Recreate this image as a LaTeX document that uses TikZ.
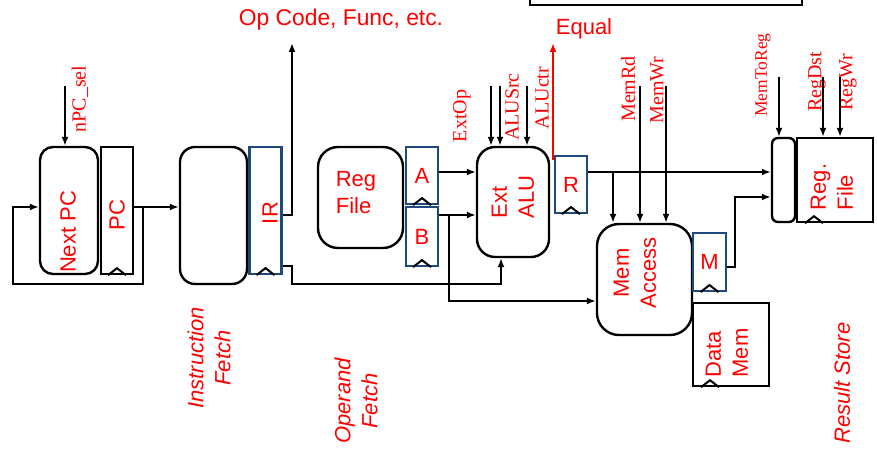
\documentclass[tikz,border=0pt]{standalone}
\usepackage{fontspec}
\setmainfont{Liberation Sans}
\newfontfamily\ctlfont{Liberation Serif}
\usetikzlibrary{arrows.meta}
\definecolor{regblue}{RGB}{31,73,125}
\newcommand{\bigsz}{\fontsize{22}{27}\selectfont}
\tikzstyle{unitbox}=[draw, line width=2.4pt, inner sep=0pt]
\tikzstyle{plainbox}=[draw, line width=2.4pt, inner sep=0pt]
\tikzstyle{regbox}=[draw=regblue, line width=2.2pt, inner sep=0pt, minimum width=32pt, text=red, font=\bigsz]
\tikzstyle{txt}=[text=red, font=\bigsz, inner sep=0pt]
\tikzstyle{vtxt}=[txt, rotate=90]
\tikzstyle{phase}=[vtxt, font=\bigsz\itshape, align=center]
\tikzstyle{ctl}=[text=red, font=\ctlfont\fontsize{20}{24}\selectfont, rotate=90, inner sep=0pt]
\tikzstyle{wire}=[line width=2pt, -{Latex[length=9pt,width=7pt]}]
\tikzstyle{clock}=[line width=2pt]
\newcommand{\clk}[2][0pt]{\draw[clock] ([xshift=#1-9pt]#2) -- ++(9pt,7pt) -- ++(9pt,-7pt);}

\begin{document}
\begin{tikzpicture}[x=1pt,y=-1pt]
\useasboundingbox (0,0) rectangle (877,449);

\node[unitbox, rounded corners=13pt, minimum width=58pt, minimum height=127pt] (nextpc) at (69,210.5) {};
\node[plainbox, minimum width=32pt, minimum height=127pt] (pc) at (117,210.5) {};
\node[unitbox, rounded corners=15pt, minimum width=67pt, minimum height=137pt] (imem) at (213.5,215.5) {};
\node[regbox, minimum height=127pt] (ir) at (265.5,210.5) {};
\node[unitbox, rounded corners=20pt, minimum width=85pt, minimum height=101pt] (regfile) at (360.5,197.5) {};
\node[regbox, minimum height=57pt] (rega) at (422,175.5) {A};
\node[regbox, minimum height=59pt] (regb) at (422,236.5) {B};
\node[unitbox, rounded corners=18pt, minimum width=72pt, minimum height=110pt] (alu) at (513,202) {};
\node[regbox, minimum height=57pt] (regr) at (571,184.5) {R};
\node[unitbox, rounded corners=22pt, minimum width=95pt, minimum height=111pt] (memacc) at (644.5,279.5) {};
\node[regbox, minimum width=33pt, minimum height=58pt] (regm) at (709.5,262) {M};
\node[plainbox, minimum width=76pt, minimum height=83pt] (datamem) at (731,344.5) {};
\node[unitbox, rounded corners=6pt, minimum width=23pt, minimum height=84pt] (mux) at (783.5,180) {};
\node[plainbox, minimum width=76pt, minimum height=84pt] (rfile) at (835,180) {};
\draw[line width=2.4pt] (530,-3) -- (530,5) -- (802,5) -- (802,-3);

\node[vtxt] (nextpctxt) at (68,232) {Next PC};
\node[vtxt] (pctxt) at (117,215) {PC};
\node[vtxt] (irtxt) at (270,213) {IR};
\node[txt, align=left] (regfiletxt) at (356,193) {Reg\\File};
\node[vtxt, align=left] (alutxt) at (513,197) {Ext\\ALU};
\node[vtxt, align=center] (memacctxt) at (635,273) {Mem\\Access};
\node[vtxt, align=left] (datamemtxt) at (727,353) {Data\\Mem};
\node[vtxt, align=left] (rfiletxt) at (832,187) {Reg.\\File};
\node[txt, font=\fontsize{22.8}{27}\selectfont] (opcode) at (341,20) {Op Code, Func, etc.};
\node[txt] (equal) at (584,29) {Equal};
\node[phase] (ifetch) at (209,358) {Instruction\\Fetch};
\node[phase] (ofetch) at (356,401) {Operand\\Fetch};
\node[phase] (rstore) at (842,383) {Result Store};

\node[ctl] (npcsel) at (80,99) {nPC\_sel};
\node[ctl] (extop) at (462,116) {ExtOp};
\node[ctl] (alusrc) at (512,107) {ALUSrc};
\node[ctl] (aluctr) at (542,98) {ALUctr};
\node[ctl] (memrd) at (628,89) {MemRd};
\node[ctl] (memwr) at (657,90) {MemWr};
\node[ctl, font=\ctlfont\fontsize{17.5}{20}\selectfont] (memtoreg) at (763,75) {MemToReg};
\node[ctl] (regdst) at (817,82) {RegDst};
\node[ctl] (regwr) at (848,82) {RegWr};

\coordinate (pcout) at (143,207);
\draw[wire] (pc.east |- pcout) -- (imem.west |- pcout);
\draw[wire] (pcout) |- (13,284) |- (nextpc.west |- pcout);
\draw[wire] (65,86) -- (nextpc.north -| 65,0);
\draw[wire] (ir.east |- 0,215) -| (292,43);
\draw[wire] (ir.east |- 0,266) -| (292,284) -| (alu.south -| 501,0);
\draw[wire] (rega.east |- 0,172) -- (alu.west |- 0,172);
\draw[wire] (regb.east |- 0,215) -- (alu.west |- 0,215);
\draw[wire] (449,215) |- (memacc.west |- 0,301);
\foreach \x in {491,500,527} \draw[wire] (\x,86) -- (alu.north -| \x,0);
\draw[wire, red] (553,160) -- (553,43);
\draw[wire] (regr.east |- 0,172) -- (mux.west |- 0,172);
\draw[wire] (613,172) -- (memacc.north -| 613,0);
\foreach \x in {640,666} \draw[wire] (\x,86) -- (memacc.north -| \x,0);
\draw[wire] (regm.east |- 0,267) -| (735,197) -- (mux.west |- 0,197);
\draw[wire] (779,77) -- (mux.north -| 779,0);
\foreach \x in {823,840} \draw[wire] (\x,77) -- (rfile.north -| \x,0);

\clk{pc.south} \clk{ir.south} \clk{rega.south} \clk{regb.south}
\clk{regr.south} \clk{regm.south} \clk[-21pt]{datamem.south} \clk[-21pt]{rfile.south}
\end{tikzpicture}
\end{document}
